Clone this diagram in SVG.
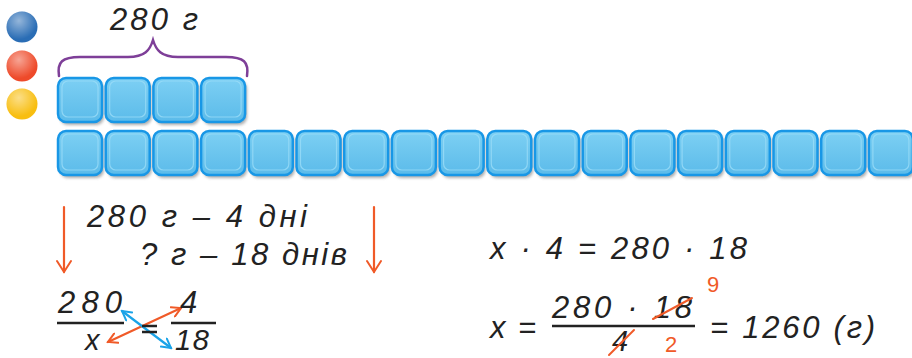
<svg xmlns="http://www.w3.org/2000/svg" xmlns:xlink="http://www.w3.org/1999/xlink" width="912" height="358" viewBox="0 0 912 358">
<style>
.t{font-family:"Liberation Sans","DejaVu Sans",sans-serif;font-style:italic;font-size:31px;fill:#222;}
.s{font-size:29px;}
.r{font-family:"Liberation Sans","DejaVu Sans",sans-serif;font-size:22px;fill:#F05A28;}
.ln{stroke:#222;stroke-width:2.5;fill:none;}
.oa{stroke:#F05A28;stroke-width:2.2;fill:none;stroke-linecap:round;stroke-linejoin:round;}
.ba{stroke:#1AA3E8;stroke-width:2.2;fill:none;stroke-linecap:round;stroke-linejoin:round;}
.strike{stroke:#F05A28;stroke-width:2;stroke-linecap:round;}
</style>
<defs>
<linearGradient id="bg" x1="0" y1="0" x2="0" y2="1">
<stop offset="0" stop-color="#7DD0F4"/>
<stop offset="0.5" stop-color="#6CC5EE"/>
<stop offset="1" stop-color="#5BBBEA"/>
</linearGradient>
<filter id="sh" x="-20%" y="-20%" width="150%" height="150%">
<feGaussianBlur stdDeviation="1.5"/>
</filter>
<g id="block">
<rect x="2" y="3" width="44" height="44" rx="8" fill="#777" opacity="0.6" filter="url(#sh)"/>
<rect x="0" y="0" width="44" height="44" rx="8" fill="url(#bg)" stroke="#1897E6" stroke-width="2.5"/>
<rect x="4" y="3" width="36" height="36" rx="6" fill="none" stroke="#9ADCF7" stroke-width="1.2" opacity="0.8"/>
</g>
<radialGradient id="hl" cx="0.4" cy="0.3" r="0.6">
<stop offset="0" stop-color="#fff" stop-opacity="0.5"/>
<stop offset="1" stop-color="#fff" stop-opacity="0"/>
</radialGradient>
<marker id="oh" viewBox="0 0 12 12" refX="10" refY="6" markerWidth="12" markerHeight="12" markerUnits="userSpaceOnUse" orient="auto-start-reverse">
<path d="M1,1 L10,6 L1,11" fill="none" stroke="#F05A28" stroke-width="2" stroke-linecap="round"/>
</marker>
<marker id="bh" viewBox="0 0 12 12" refX="10" refY="6" markerWidth="12" markerHeight="12" markerUnits="userSpaceOnUse" orient="auto-start-reverse">
<path d="M1,1 L10,6 L1,11" fill="none" stroke="#1AA3E8" stroke-width="2" stroke-linecap="round"/>
</marker>
<marker id="vh" viewBox="0 0 16 16" refX="8" refY="14" markerWidth="16" markerHeight="16" markerUnits="userSpaceOnUse" orient="0">
<path d="M1,3 L8,14 L15,3" fill="none" stroke="#F05A28" stroke-width="2" stroke-linecap="round"/>
</marker>
</defs>

<g id="dots">
<circle cx="22" cy="27" r="15.5" fill="#2A6DB5"/>
<circle cx="22" cy="27" r="15.5" fill="url(#hl)"/>
<circle cx="22" cy="66" r="15.5" fill="#EE4A2A"/>
<circle cx="22" cy="66" r="15.5" fill="url(#hl)"/>
<circle cx="22" cy="104" r="15.5" fill="#F8BE10"/>
<circle cx="22" cy="104" r="15.5" fill="url(#hl)"/>
</g>

<g id="brace">
<path d="M59,76 C57,62 62,57 80,57 L128,57 C145,57 150,50 153,40 C156,50 161,57 178,57 L226,57 C244,57 249,62 247,76" fill="none" stroke="#7E3F98" stroke-width="2.5" stroke-linecap="round"/>
<text class="t" x="110" y="30" textLength="88" lengthAdjust="spacing">280 г</text>
</g>

<g id="row4">
<use xlink:href="#block" x="58" y="78"/>
<use xlink:href="#block" x="105.7" y="78"/>
<use xlink:href="#block" x="153.4" y="78"/>
<use xlink:href="#block" x="201.1" y="78"/>
</g>

<g id="row18">
<use xlink:href="#block" x="58" y="131"/>
<use xlink:href="#block" x="105.7" y="131"/>
<use xlink:href="#block" x="153.4" y="131"/>
<use xlink:href="#block" x="201.1" y="131"/>
<use xlink:href="#block" x="248.8" y="131"/>
<use xlink:href="#block" x="296.5" y="131"/>
<use xlink:href="#block" x="344.2" y="131"/>
<use xlink:href="#block" x="391.9" y="131"/>
<use xlink:href="#block" x="439.6" y="131"/>
<use xlink:href="#block" x="487.3" y="131"/>
<use xlink:href="#block" x="535" y="131"/>
<use xlink:href="#block" x="582.7" y="131"/>
<use xlink:href="#block" x="630.4" y="131"/>
<use xlink:href="#block" x="678.1" y="131"/>
<use xlink:href="#block" x="725.8" y="131"/>
<use xlink:href="#block" x="773.5" y="131"/>
<use xlink:href="#block" x="821.2" y="131"/>
<use xlink:href="#block" x="868.9" y="131"/>
</g>

<g id="connectors">
<line x1="64" y1="207" x2="64" y2="272" class="oa" marker-end="url(#vh)"/>
<line x1="374" y1="207" x2="374" y2="272" class="oa" marker-end="url(#vh)"/>
<line x1="108" y1="342" x2="181" y2="308" class="oa" marker-start="url(#oh)" marker-end="url(#oh)"/>
<line x1="122" y1="311" x2="171" y2="348" class="ba" marker-start="url(#bh)" marker-end="url(#bh)"/>
</g>

<g id="condition">
<text class="t" x="87" y="227" textLength="220" lengthAdjust="spacing">280 г – 4 дні</text>
<text class="t" x="140" y="265" textLength="207" lengthAdjust="spacing">? г – 18 днів</text>
</g>

<g id="proportion">
<text class="t" x="58" y="313" textLength="64" lengthAdjust="spacing">280</text>
<line x1="57" y1="323" x2="124" y2="323" class="ln"/>
<text class="t s" x="85" y="350">x</text>
<line x1="142" y1="326" x2="157" y2="326" class="ln"/>
<line x1="142" y1="332" x2="157" y2="332" class="ln"/>
<text class="t" x="180" y="313">4</text>
<line x1="171" y1="323" x2="216" y2="323" class="ln"/>
<text class="t s" x="175" y="350" textLength="34" lengthAdjust="spacing">18</text>
</g>

<g id="equations">
<text class="t" x="490" y="259" textLength="257" lengthAdjust="spacing">x · 4 = 280 · 18</text>
<text class="t" x="490" y="338" textLength="46" lengthAdjust="spacing">x =</text>
<text class="t" x="552" y="318" textLength="140" lengthAdjust="spacing">280 · 18</text>
<line x1="552" y1="326" x2="695" y2="326" class="ln"/>
<text class="t s" x="612" y="351">4</text>
<text class="t" x="710" y="338" textLength="165" lengthAdjust="spacing">= 1260 (г)</text>
<line x1="653" y1="319" x2="692" y2="298" class="strike"/>
<line x1="609" y1="355" x2="634" y2="330" class="strike"/>
<text class="r" x="707" y="292">9</text>
<text class="r" x="665" y="352">2</text>
</g>
</svg>
